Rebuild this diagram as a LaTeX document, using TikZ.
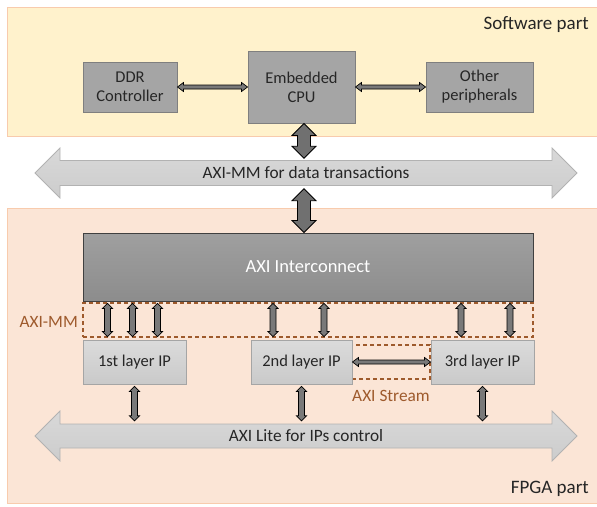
\documentclass[tikz,border=0pt]{standalone}
\usepackage{fontspec}
\setmainfont{Carlito}
\usetikzlibrary{calc}

\definecolor{swfill}{HTML}{FFF2CC}
\definecolor{fpgafill}{HTML}{FBE5D6}
\definecolor{zoneline}{HTML}{F8CBAD}
\definecolor{boxgray}{HTML}{A5A5A5}
\definecolor{boxline}{HTML}{7F7F7F}
\definecolor{txt}{HTML}{262626}
\definecolor{brown}{HTML}{9E5A2C}
\definecolor{busline}{HTML}{B2B2B2}

% horizontal double-headed block arrow: [style]{left end}{right end}{shaft half}{head half}{head length}
\newcommand\harrow[6][]{%
  \path[#1] let \p1=(#2), \p2=(#3) in
    (\x1,\y1) -- (\x1+#6,\y1+#5) -- (\x1+#6,\y1+#4) -- (\x2-#6,\y1+#4)
    -- (\x2-#6,\y1+#5) -- (\x2,\y1) -- (\x2-#6,\y1-#5) -- (\x2-#6,\y1-#4)
    -- (\x1+#6,\y1-#4) -- (\x1+#6,\y1-#5) -- cycle;}
% vertical double-headed block arrow: [style]{top end}{bottom end}{shaft half}{head half}{head length}
\newcommand\varrow[6][]{%
  \path[#1] let \p1=(#2), \p2=(#3) in
    (\x1,\y1) -- (\x1+#5,\y1-#6) -- (\x1+#4,\y1-#6) -- (\x1+#4,\y2+#6)
    -- (\x1+#5,\y2+#6) -- (\x1,\y2) -- (\x1-#5,\y2+#6) -- (\x1-#4,\y2+#6)
    -- (\x1-#4,\y1-#6) -- (\x1-#5,\y1-#6) -- cycle;}

\tikzset{
  lbl/.style={font=\fontsize{16.5}{19}\selectfont, text=txt, align=center},
  graybox/.style={lbl, draw=boxline, fill=boxgray, line width=0.9pt, inner sep=0pt},
  ipbox/.style={lbl, draw=boxgray, top color=gray!28, bottom color=gray!42, line width=0.9pt, inner sep=0pt,
                minimum width=102pt, minimum height=44pt},
  zone/.style={draw=brown, dash pattern=on 4pt off 3pt, line width=1.1pt, inner sep=0pt},
  zonetext/.style={font=\fontsize{17.3}{20}\selectfont, text=brown, inner sep=0pt},
  bus/.style={top color=gray!30, bottom color=gray!40, draw=busline, line width=0.8pt},
  bustext/.style={lbl, font=\fontsize{17.3}{20}\selectfont, inner sep=0pt},
  fat/.style={fill=gray!60!black!80, draw=black, line width=0.8pt},
  thin/.style={fill=gray!60!black!75, draw=black, line width=0.7pt},
  parttext/.style={font=\fontsize{19}{22}\selectfont, text=txt, inner sep=0pt, anchor=east},
}

\begin{document}
\begin{tikzpicture}[x=1pt,y=-1pt]
\useasboundingbox (0,0) rectangle (597,506);
\clip (0,0) rectangle (597,506);

% software and FPGA regions
\path[fill=swfill, draw=zoneline, line width=1pt] (7,7) rectangle (605,136);
\path[fill=fpgafill, draw=zoneline, line width=1pt] (7,208) rectangle (605,503);
\node[parttext] (swlabel) at (589,25) {Software part};
\node[parttext] (fpgalabel) at (589,489) {FPGA part};

% system buses
\coordinate (mmc) at (306,173);
\harrow[bus]{$(mmc)+(-271,0)$}{$(mmc)+(271,0)$}{12.5pt}{25pt}{25pt}
\node[bustext, minimum width=492pt, minimum height=25pt] (mmbus) at (mmc) {AXI-MM for data transactions};
\coordinate (litec) at (306,436);
\harrow[bus]{$(litec)+(-271,0)$}{$(litec)+(271,0)$}{12pt}{25pt}{25pt}
\node[bustext, minimum width=492pt, minimum height=24pt] (litebus) at (litec) {AXI Lite for IPs control};

% processing system blocks
\node[graybox, minimum width=94pt, minimum height=50pt] (ddr) at (130,87) {DDR\\Controller};
\node[graybox, minimum width=107pt, minimum height=72pt] (cpu) at (301.5,87) {Embedded\\CPU};
\node[graybox, minimum width=107pt, minimum height=50pt] (oth) at (479.5,87) {Other\\peripherals};

% interconnect
\node[draw=black!75, top color=gray!75, bottom color=gray!110!black, line width=0.9pt,
      minimum width=450pt, minimum height=68pt, font=\fontsize{18.5}{21}\selectfont, text=white]
      (ic) at (308,267) {AXI Interconnect};

% memory-mapped links zone and stream zone
\node[zone, minimum width=450pt, minimum height=34pt] (mmzone) at (308,320) {};
\node[zonetext, anchor=east] (mmlabel) at (78,322) {AXI-MM};
\node[zone, minimum width=78pt, minimum height=34pt] (stzone) at (391,362) {};
\node[zonetext] (stlabel) at (391,396) {AXI Stream};

% IP cores
\node[ipbox, minimum width=103pt] (ip1) at (134.5,362) {1st layer IP};
\node[ipbox, minimum width=101pt] (ip2) at (301.5,362) {2nd layer IP};
\node[ipbox, minimum width=103pt] (ip3) at (482.5,362) {3rd layer IP};

% fat links CPU -- bus -- interconnect
\varrow[fat]{$(cpu.south)+(2.5,0)$}{$(mmbus.north -| cpu.south)+(2.5,-2)$}{6.5pt}{12pt}{12pt}
\varrow[fat]{$(mmbus.south -| cpu.south)+(2.5,3)$}{$(ic.north -| cpu.south)+(2.5,0)$}{6.5pt}{12pt}{12pt}

% links inside the processing system
\harrow[thin]{ddr.east}{cpu.west}{2pt}{4.5pt}{6pt}
\harrow[thin]{cpu.east}{oth.west}{2pt}{4.5pt}{6pt}

% memory-mapped links interconnect -- IPs
\foreach \ip/\dx in {ip1/-27, ip1/-2, ip1/23, ip2/-28.5, ip2/22.5, ip3/-21.5, ip3/27.5}{
  \varrow[thin]{$(ic.south -| \ip.north)+(\dx,2)$}{$(\ip.north)+(\dx,-3)$}{3pt}{5pt}{5pt}
}

% stream link
\harrow[thin]{ip2.east}{ip3.west}{2pt}{4.5pt}{6pt}

% control links IPs -- AXI Lite
\foreach \ip in {ip1, ip2, ip3}{
  \varrow[thin]{$(\ip.south)+(0,2)$}{$(litebus.north -| \ip.south)+(0,-3)$}{3pt}{5pt}{5pt}
}
\end{tikzpicture}
\end{document}
